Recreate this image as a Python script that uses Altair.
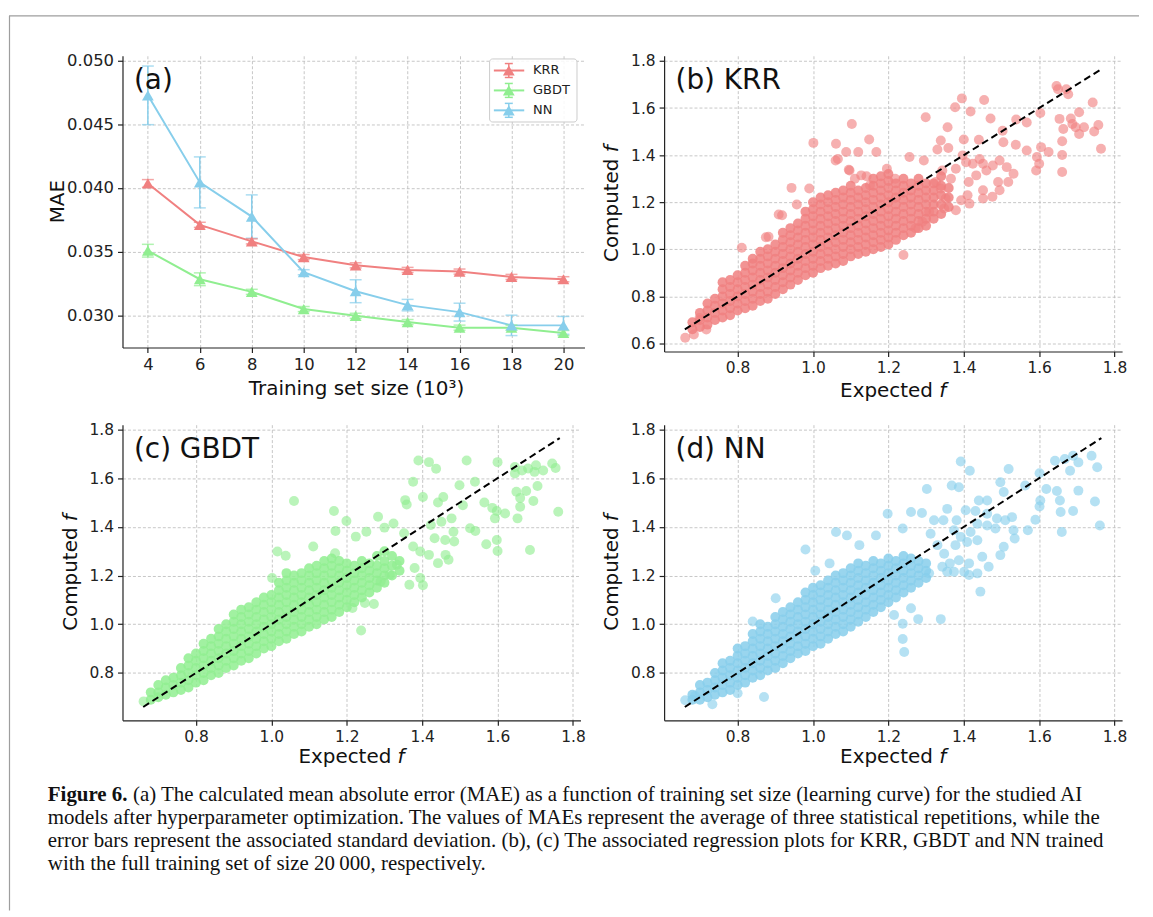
import altair as alt
import pandas as pd

FONT = "DejaVu Sans"
CAP_FONT = "Liberation Serif"

# ---------------- panel (a): learning curve ----------------
models = ["KRR", "GBDT", "NN"]
model_colors = ["#F08080", "#90EE90", "#87CEEB"]
train_size = [4, 6, 8, 10, 12, 14, 16, 18, 20]
krr_mae = [0.04036, 0.03711, 0.03581, 0.03458, 0.03393, 0.03357, 0.03344, 0.03302, 0.03284]
krr_std = [0.0003, 0.0002, 0.0002, 0.0002, 0.0002, 0.0002, 0.0002, 0.0002, 0.0002]
gbdt_mae = [0.03508, 0.03284, 0.03185, 0.03050, 0.02997, 0.02948, 0.02904, 0.02904, 0.02862]
gbdt_std = [0.0005, 0.0005, 0.0002, 0.0002, 0.0002, 0.0002, 0.0002, 0.0002, 0.0002]
nn_mae = [0.04727, 0.04044, 0.03776, 0.03339, 0.03190, 0.03081, 0.03026, 0.02922, 0.02922]
nn_std = [0.0023, 0.0020, 0.0017, 0.0002, 0.0009, 0.00045, 0.0007, 0.0008, 0.0007]
mae_ticks = [0.030, 0.035, 0.040, 0.045, 0.050]

# ---------------- panels (b)-(d): regression plots ----------------
f_ticks = [0.8, 1.0, 1.2, 1.4, 1.6, 1.8]
diag_vals = [0.66, 1.765]

krr_band = [
    (0.68, [0.66, 0.69]),
    (0.70, [0.67, 0.70, 0.73]),
    (0.72, [0.68, 0.71, 0.74, 0.77]),
    (0.74, [0.70, 0.73, 0.76, 0.79]),
    (0.76, [0.71, 0.74, 0.77, 0.80, 0.83, 0.86]),
    (0.78, [0.72, 0.75, 0.78, 0.81, 0.84, 0.87]),
    (0.80, [0.74, 0.77, 0.80, 0.83, 0.86, 0.89]),
    (0.82, [0.75, 0.78, 0.81, 0.84, 0.87, 0.90, 0.93]),
    (0.84, [0.76, 0.79, 0.82, 0.85, 0.88, 0.91, 0.94, 0.96]),
    (0.86, [0.78, 0.81, 0.84, 0.87, 0.90, 0.93, 0.96, 0.99]),
    (0.88, [0.79, 0.82, 0.85, 0.88, 0.91, 0.94, 0.97, 1.00]),
    (0.90, [0.81, 0.84, 0.87, 0.90, 0.93, 0.96, 0.99, 1.02]),
    (0.92, [0.83, 0.86, 0.89, 0.92, 0.95, 0.98, 1.01, 1.04, 1.07]),
    (0.94, [0.85, 0.88, 0.91, 0.94, 0.97, 1.00, 1.03, 1.06, 1.09]),
    (0.96, [0.87, 0.90, 0.93, 0.96, 0.99, 1.02, 1.05, 1.08, 1.11]),
    (0.98, [0.89, 0.92, 0.95, 0.98, 1.01, 1.04, 1.07, 1.10, 1.13, 1.16]),
    (1.00, [0.90, 0.93, 0.96, 0.99, 1.02, 1.05, 1.08, 1.11, 1.14, 1.17, 1.20]),
    (1.02, [0.92, 0.95, 0.98, 1.01, 1.04, 1.07, 1.10, 1.13, 1.16, 1.19, 1.22]),
    (1.04, [0.93, 0.96, 0.99, 1.02, 1.05, 1.08, 1.11, 1.14, 1.17, 1.20, 1.23]),
    (1.06, [0.94, 0.97, 1.00, 1.03, 1.06, 1.09, 1.12, 1.15, 1.18, 1.21, 1.24]),
    (1.08, [0.95, 0.98, 1.01, 1.04, 1.07, 1.10, 1.13, 1.16, 1.19, 1.22, 1.25]),
    (1.10, [0.97, 1.00, 1.03, 1.06, 1.09, 1.12, 1.15, 1.18, 1.21, 1.24, 1.27]),
    (1.12, [0.98, 1.01, 1.04, 1.07, 1.10, 1.13, 1.16, 1.19, 1.22, 1.25]),
    (1.14, [0.99, 1.02, 1.05, 1.08, 1.11, 1.14, 1.17, 1.20, 1.23, 1.26]),
    (1.16, [1.00, 1.03, 1.06, 1.09, 1.12, 1.15, 1.18, 1.21, 1.24, 1.27, 1.30]),
    (1.18, [1.01, 1.04, 1.07, 1.10, 1.13, 1.16, 1.19, 1.22, 1.25, 1.28, 1.31]),
    (1.20, [1.02, 1.05, 1.08, 1.11, 1.14, 1.17, 1.20, 1.23, 1.26, 1.29, 1.32]),
    (1.22, [1.04, 1.07, 1.10, 1.13, 1.16, 1.19, 1.22, 1.25, 1.28]),
    (1.24, [1.06, 1.09, 1.12, 1.15, 1.18, 1.21, 1.24, 1.27, 1.30]),
    (1.26, [1.07, 1.10, 1.13, 1.16, 1.19, 1.22, 1.25, 1.28]),
    (1.28, [1.09, 1.12, 1.15, 1.18, 1.21, 1.24, 1.27, 1.30]),
    (1.30, [1.10, 1.13, 1.16, 1.19, 1.22, 1.25, 1.28]),
    (1.32, [1.13, 1.16, 1.19, 1.22, 1.25, 1.28]),
    (1.34, [1.15, 1.19, 1.23, 1.27, 1.31]),
    (1.36, [1.18, 1.22, 1.26]),
]
krr_outliers = [
    (0.661, 0.624), (0.684, 0.638), (0.717, 0.659), (0.699, 0.708), (0.811, 1.007), (0.875, 1.051),
    (0.943, 1.261), (0.909, 1.148), (1.001, 1.452), (0.990, 1.258), (1.061, 1.448), (1.103, 1.532),
    (1.149, 1.466), (1.168, 1.413), (1.120, 1.413), (1.088, 1.413), (1.060, 1.377), (1.095, 1.338),
    (1.111, 1.300), (1.142, 1.310), (1.196, 1.342), (1.218, 1.300), (1.240, 0.976), (1.256, 1.392),
    (1.299, 1.561), (1.294, 1.377), (1.339, 1.462), (1.357, 1.518), (1.359, 1.430), (1.377, 1.603),
    (1.395, 1.641), (1.418, 1.585), (1.454, 1.634), (1.471, 1.556), (1.440, 1.465), (1.400, 1.466),
    (1.330, 1.424), (1.397, 1.399), (1.505, 1.455), (1.503, 1.504), (1.539, 1.551), (1.567, 1.539),
    (1.538, 1.444), (1.567, 1.420), (1.594, 1.392), (1.625, 1.413), (1.605, 1.434), (1.603, 1.579),
    (1.592, 1.335), (1.600, 1.363), (1.646, 1.694), (1.650, 1.680), (1.672, 1.680), (1.677, 1.659),
    (1.654, 1.554), (1.664, 1.511), (1.661, 1.459), (1.661, 1.401), (1.661, 1.328), (1.684, 1.556),
    (1.697, 1.518), (1.688, 1.532), (1.706, 1.582), (1.706, 1.490), (1.719, 1.518), (1.742, 1.624),
    (1.746, 1.500), (1.757, 1.528), (1.764, 1.427),
    (1.339, 1.258), (1.379, 1.166), (1.393, 1.208), (1.413, 1.286), (1.433, 1.314), (1.451, 1.363),
    (1.424, 1.363), (1.460, 1.335), (1.477, 1.356), (1.495, 1.377), (1.514, 1.349), (1.532, 1.321),
    (1.491, 1.286), (1.518, 1.286), (1.451, 1.251), (1.495, 1.251), (1.476, 1.223), (1.451, 1.216),
    (1.415, 1.194), (1.410, 1.230), (1.442, 1.384), (1.406, 1.370), (1.379, 1.342), (1.366, 1.300),
    (1.343, 1.335), (1.352, 1.216), (1.348, 1.173), (1.326, 1.286), (1.308, 1.159), (1.290, 1.117),
    (1.272, 1.089), (0.882, 1.053), (0.918, 1.145), (0.957, 1.190), (1.066, 1.384), (1.097, 1.335),
    (1.128, 1.314), (1.151, 1.272),
]

gbdt_band = [
    (0.68, [0.69, 0.72]),
    (0.70, [0.70, 0.72, 0.75]),
    (0.72, [0.71, 0.74, 0.77]),
    (0.74, [0.72, 0.75, 0.78]),
    (0.76, [0.73, 0.76, 0.79, 0.82]),
    (0.78, [0.74, 0.77, 0.80, 0.83, 0.86]),
    (0.80, [0.76, 0.79, 0.82, 0.85, 0.88]),
    (0.82, [0.77, 0.80, 0.83, 0.86, 0.89, 0.92]),
    (0.84, [0.79, 0.82, 0.85, 0.88, 0.91, 0.94]),
    (0.86, [0.80, 0.83, 0.86, 0.89, 0.92, 0.95, 0.98]),
    (0.88, [0.82, 0.85, 0.88, 0.91, 0.94, 0.97, 1.00]),
    (0.90, [0.83, 0.86, 0.89, 0.92, 0.95, 0.98, 1.01, 1.04]),
    (0.92, [0.85, 0.88, 0.91, 0.94, 0.97, 1.00, 1.03, 1.06]),
    (0.94, [0.86, 0.89, 0.92, 0.95, 0.98, 1.01, 1.04, 1.07]),
    (0.96, [0.88, 0.91, 0.94, 0.97, 1.00, 1.03, 1.06, 1.09]),
    (0.98, [0.90, 0.93, 0.96, 0.99, 1.02, 1.05, 1.08, 1.11]),
    (1.00, [0.91, 0.94, 0.97, 1.00, 1.03, 1.06, 1.09, 1.12]),
    (1.02, [0.93, 0.96, 0.99, 1.02, 1.05, 1.08, 1.11, 1.14, 1.17]),
    (1.04, [0.94, 0.97, 1.00, 1.03, 1.06, 1.09, 1.12, 1.15, 1.18, 1.21]),
    (1.06, [0.96, 0.99, 1.02, 1.05, 1.08, 1.11, 1.14, 1.17, 1.20]),
    (1.08, [0.97, 1.00, 1.03, 1.06, 1.09, 1.12, 1.15, 1.18, 1.21]),
    (1.10, [0.99, 1.02, 1.05, 1.08, 1.11, 1.14, 1.17, 1.20, 1.23]),
    (1.12, [1.00, 1.03, 1.06, 1.09, 1.12, 1.15, 1.18, 1.21, 1.24]),
    (1.14, [1.02, 1.05, 1.08, 1.11, 1.14, 1.17, 1.20, 1.23, 1.26]),
    (1.16, [1.03, 1.06, 1.09, 1.12, 1.15, 1.18, 1.21, 1.24, 1.27]),
    (1.18, [1.05, 1.08, 1.11, 1.14, 1.17, 1.20, 1.23, 1.26]),
    (1.20, [1.07, 1.10, 1.13, 1.16, 1.19, 1.22, 1.25]),
    (1.22, [1.09, 1.12, 1.15, 1.18, 1.21, 1.24]),
    (1.24, [1.11, 1.14, 1.17, 1.20, 1.23, 1.26]),
    (1.26, [1.13, 1.16, 1.19, 1.22, 1.25]),
    (1.28, [1.15, 1.18, 1.21, 1.24, 1.28]),
    (1.30, [1.17, 1.20, 1.23, 1.26, 1.30]),
    (1.32, [1.20, 1.24, 1.28]),
    (1.34, [1.22, 1.26]),
]
gbdt_outliers = [
    (0.661, 0.683), (1.060, 1.506), (1.166, 1.465), (1.199, 1.424), (1.170, 1.383), (1.238, 0.974),
    (1.016, 1.299), (1.038, 1.281), (1.002, 1.190), (1.111, 1.319), (1.169, 1.292), (1.224, 1.360),
    (1.252, 1.380), (1.283, 1.442), (1.300, 1.397), (1.324, 1.414), (1.355, 1.510), (1.359, 1.492),
    (1.376, 1.585), (1.390, 1.673), (1.418, 1.666), (1.437, 1.639), (1.402, 1.523), (1.442, 1.500),
    (1.456, 1.523), (1.508, 1.489), (1.518, 1.673), (1.499, 1.571), (1.540, 1.585), (1.565, 1.500),
    (1.586, 1.478), (1.598, 1.465), (1.620, 1.455), (1.593, 1.435), (1.598, 1.346), (1.600, 1.301),
    (1.570, 1.329), (1.600, 1.666), (1.646, 1.646), (1.646, 1.619), (1.665, 1.632), (1.681, 1.640),
    (1.698, 1.626), (1.702, 1.653), (1.721, 1.632), (1.745, 1.660), (1.754, 1.642), (1.650, 1.544),
    (1.676, 1.547), (1.706, 1.568), (1.695, 1.506), (1.660, 1.483), (1.660, 1.519), (1.653, 1.435),
    (1.686, 1.305), (1.761, 1.462), (1.527, 1.394), (1.541, 1.383), (1.483, 1.380), (1.485, 1.340),
    (1.462, 1.285), (1.470, 1.265), (1.442, 1.251), (1.418, 1.285), (1.395, 1.299), (1.376, 1.319),
    (1.380, 1.231), (1.395, 1.190), (1.366, 1.162), (1.402, 1.160), (1.352, 1.374), (1.423, 1.408),
    (1.451, 1.421), (1.478, 1.435), (1.433, 1.353), (1.461, 1.346), (1.333, 1.244), (1.314, 1.203),
    (1.290, 1.176), (1.272, 1.083), (1.248, 1.087), (1.215, 1.067),
]

nn_band = [
    (0.68, [0.69, 0.71]),
    (0.70, [0.69, 0.72, 0.75]),
    (0.72, [0.70, 0.73, 0.76]),
    (0.74, [0.71, 0.74, 0.77, 0.80]),
    (0.76, [0.72, 0.75, 0.78, 0.81, 0.84]),
    (0.78, [0.73, 0.76, 0.79, 0.82, 0.85]),
    (0.80, [0.75, 0.78, 0.81, 0.84, 0.87, 0.90]),
    (0.82, [0.76, 0.79, 0.82, 0.85, 0.88, 0.91]),
    (0.84, [0.78, 0.81, 0.84, 0.87, 0.90, 0.93, 0.96]),
    (0.86, [0.79, 0.82, 0.85, 0.88, 0.91, 0.94, 0.97, 1.00]),
    (0.88, [0.81, 0.84, 0.87, 0.90, 0.93, 0.96, 0.99]),
    (0.90, [0.82, 0.85, 0.88, 0.91, 0.94, 0.97, 1.00, 1.03]),
    (0.92, [0.84, 0.87, 0.90, 0.93, 0.96, 0.99, 1.02, 1.05]),
    (0.94, [0.86, 0.89, 0.92, 0.95, 0.98, 1.01, 1.04, 1.07]),
    (0.96, [0.88, 0.91, 0.94, 0.97, 1.00, 1.03, 1.06, 1.09]),
    (0.98, [0.89, 0.92, 0.95, 0.98, 1.01, 1.04, 1.07, 1.10, 1.13]),
    (1.00, [0.91, 0.94, 0.97, 1.00, 1.03, 1.06, 1.09, 1.12, 1.15]),
    (1.02, [0.92, 0.95, 0.98, 1.01, 1.04, 1.07, 1.10, 1.13, 1.16]),
    (1.04, [0.94, 0.97, 1.00, 1.03, 1.06, 1.09, 1.12, 1.15, 1.18]),
    (1.06, [0.96, 0.99, 1.02, 1.05, 1.08, 1.11, 1.14, 1.17, 1.20]),
    (1.08, [0.97, 1.00, 1.03, 1.06, 1.09, 1.12, 1.15, 1.18, 1.21]),
    (1.10, [0.99, 1.02, 1.05, 1.08, 1.11, 1.14, 1.17, 1.20, 1.23]),
    (1.12, [1.01, 1.04, 1.07, 1.10, 1.13, 1.16, 1.19, 1.22, 1.25]),
    (1.14, [1.03, 1.06, 1.09, 1.12, 1.15, 1.18, 1.21, 1.24]),
    (1.16, [1.05, 1.08, 1.11, 1.14, 1.17, 1.20, 1.23, 1.26]),
    (1.18, [1.07, 1.10, 1.13, 1.16, 1.19, 1.22, 1.25]),
    (1.20, [1.09, 1.12, 1.15, 1.18, 1.21, 1.24, 1.27]),
    (1.22, [1.11, 1.14, 1.17, 1.20, 1.23, 1.26]),
    (1.24, [1.13, 1.16, 1.19, 1.22, 1.25, 1.28]),
    (1.26, [1.15, 1.18, 1.21, 1.24, 1.27]),
    (1.28, [1.17, 1.20, 1.23, 1.26]),
    (1.30, [1.19, 1.22, 1.25]),
]
nn_outliers = [
    (0.661, 0.688), (0.733, 0.671), (0.870, 0.701), (0.800, 0.716), (0.687, 0.705), (0.901, 1.107),
    (0.840, 1.011), (0.980, 1.307), (1.006, 1.220), (1.044, 1.250), (1.061, 1.379), (1.090, 1.365),
    (1.123, 1.325), (1.167, 1.365), (1.198, 1.454), (1.238, 1.393), (1.260, 1.461), (1.289, 1.457),
    (1.302, 1.556), (1.368, 1.570), (1.387, 1.563), (1.392, 1.669), (1.416, 1.631), (1.440, 1.508),
    (1.462, 1.508), (1.519, 1.638), (1.506, 1.543), (1.497, 1.583), (1.563, 1.570), (1.601, 1.620),
    (1.619, 1.556), (1.647, 1.547), (1.655, 1.508), (1.657, 1.461), (1.660, 1.379), (1.603, 1.508),
    (1.601, 1.484), (1.590, 1.429), (1.570, 1.386), (1.642, 1.672), (1.668, 1.679), (1.690, 1.692),
    (1.704, 1.665), (1.682, 1.631), (1.704, 1.549), (1.690, 1.465), (1.739, 1.692), (1.754, 1.645),
    (1.748, 1.504), (1.761, 1.406), (1.444, 1.134), (1.414, 1.202), (1.339, 1.021), (1.279, 1.021),
    (1.238, 1.002), (1.238, 0.939), (1.242, 0.886), (1.215, 1.038), (1.260, 1.066), (1.449, 1.277),
    (1.466, 1.236), (1.497, 1.284), (1.506, 1.318), (1.535, 1.352), (1.510, 1.427), (1.488, 1.434),
    (1.462, 1.454), (1.431, 1.465), (1.405, 1.468), (1.381, 1.427), (1.356, 1.474), (1.346, 1.427),
    (1.392, 1.359), (1.418, 1.379), (1.436, 1.413), (1.462, 1.406), (1.484, 1.393), (1.528, 1.440),
    (1.532, 1.386), (1.436, 1.345), (1.409, 1.338), (1.378, 1.325), (1.374, 1.386), (1.321, 1.427),
    (1.312, 1.372), (1.330, 1.325), (1.348, 1.290), (1.363, 1.250), (1.387, 1.263), (1.414, 1.250),
    (1.436, 1.209), (1.401, 1.216), (1.374, 1.216), (1.356, 1.216), (1.343, 1.236), (1.308, 1.209),
]

caption_bold = "Figure 6."
caption_line1 = "(a) The calculated mean absolute error (MAE) as a function of training set size (learning curve) for the studied AI"
caption_rest = [
    "models after hyperparameter optimization. The values of MAEs represent the average of three statistical repetitions, while the",
    "error bars represent the associated standard deviation. (b), (c) The associated regression plots for KRR, GBDT and NN trained",
    "with the full training set of size 20\u2009000, respectively.",
]

ONE = pd.DataFrame({"v": [0]})


def text_layer(s, x, y, size, font=FONT, weight="normal", style="normal",
               align="left", baseline="alphabetic", angle=0, color="#111111", **kw):
    return alt.Chart(pd.DataFrame({"t": [s]})).mark_text(
        font=font, fontSize=size, fontWeight=weight, fontStyle=style,
        align=align, baseline=baseline, angle=angle, color=color, **kw
    ).encode(text="t:N", x=alt.value(x), y=alt.value(y))


def hrule(x1, x2, y, color, width=1.0):
    return alt.Chart(ONE).mark_rule(color=color, strokeWidth=width).encode(
        x=alt.value(x1), x2=alt.value(x2), y=alt.value(y))


def vrule(x, y1, y2, color, width=1.0):
    return alt.Chart(ONE).mark_rule(color=color, strokeWidth=width).encode(
        x=alt.value(x), y=alt.value(y1), y2=alt.value(y2))


# ---------------- panel (a) ----------------
AW, AH = 464, 293
rows = []
for m, maes, stds in zip(models, [krr_mae, gbdt_mae, nn_mae], [krr_std, gbdt_std, nn_std]):
    for s, v, e in zip(train_size, maes, stds):
        rows.append({"train": s, "model": m, "mae": v, "lo": v - e, "hi": v + e})
df_a = pd.DataFrame(rows)

xs_a = alt.Scale(domain=[3.023, 20.81], nice=False, zero=False)
ys_a = alt.Scale(domain=[0.027484, 0.050375], nice=False, zero=False)
xax_a = alt.Axis(values=train_size, title=None, labelFontSize=16.5)
yax_a = alt.Axis(values=mae_ticks, format=".3f", title=None, labelFontSize=16.5)
col = alt.Color("model:N", scale=alt.Scale(domain=models, range=model_colors), legend=None)
X_a = alt.X("train:Q", scale=xs_a, axis=xax_a)

base_a = alt.Chart(df_a)
line_a = base_a.mark_line(strokeWidth=2).encode(
    x=X_a, y=alt.Y("mae:Q", scale=ys_a, axis=yax_a), color=col, detail="model:N")
bars_a = base_a.mark_rule(strokeWidth=1.5).encode(
    x=X_a, y=alt.Y("lo:Q", scale=ys_a, axis=yax_a), y2="hi:Q", color=col)
capl_a = base_a.mark_tick(orient="horizontal", size=12, thickness=1.5).encode(
    x=X_a, y=alt.Y("lo:Q", scale=ys_a, axis=yax_a), color=col)
caph_a = base_a.mark_tick(orient="horizontal", size=12, thickness=1.5).encode(
    x=X_a, y=alt.Y("hi:Q", scale=ys_a, axis=yax_a), color=col)
pts_a = base_a.mark_point(shape="triangle-up", filled=True, size=140, opacity=1).encode(
    x=X_a, y=alt.Y("mae:Q", scale=ys_a, axis=yax_a), color=col)

legend_layers = [
    alt.Chart(ONE).mark_rect(fill="white", fillOpacity=0.85, stroke="#cccccc",
                             strokeWidth=1, cornerRadius=3).encode(
        x=alt.value(368.7), x2=alt.value(456.5), y=alt.value(3.2), y2=alt.value(66.5))
]
for i, (m, c) in enumerate(zip(models, model_colors)):
    yy = 14.8 + 20 * i
    legend_layers += [
        hrule(373, 403.5, yy, c, 2),
        vrule(388, yy - 7, yy + 7, c, 1.5),
        hrule(384, 392, yy - 7, c, 1.5),
        hrule(384, 392, yy + 7, c, 1.5),
        alt.Chart(ONE).mark_point(shape="triangle-up", filled=True, size=140, opacity=1,
                                  color=c).encode(x=alt.value(388), y=alt.value(yy)),
        text_layer(m, 412.4, yy, 13, baseline="middle", color="#222222"),
    ]

panel_a = alt.layer(
    line_a, bars_a, capl_a, caph_a, pts_a, *legend_layers,
    text_layer("(a)", 11.5, 33.5, 28),
    text_layer("Training set size (10\u00b3)", 235, AH + 47.5, 20, align="center"),
    text_layer("MAE", -59, AH / 2, 20, align="center", angle=270),
    hrule(-114, 1021, -40, "#9e9e9e", 1.2),
).properties(width=AW, height=AH)


# ---------------- scatter panels ----------------
def expand(band):
    xs, ys = [], []
    for x, colv in band:
        for y in colv:
            xs.append(x)
            ys.append(y)
    return pd.DataFrame({"expected": xs, "computed": ys})


def pairs(points):
    return pd.DataFrame({"expected": [p[0] for p in points], "computed": [p[1] for p in points]})


def scatter_panel(band, outliers, color, label, y_domain, y_ticks, w, h, xt_dy, extra=()):
    xs = alt.Scale(domain=[0.605, 1.82], nice=False, zero=False)
    ys = alt.Scale(domain=y_domain, nice=False, zero=False)
    xax = alt.Axis(values=f_ticks, format=".1f", title=None)
    yax = alt.Axis(values=y_ticks, format=".1f", title=None)
    X = alt.X("expected:Q", scale=xs, axis=xax)
    Y = alt.Y("computed:Q", scale=ys, axis=yax)
    core = alt.Chart(expand(band)).mark_circle(size=100, opacity=0.85, color=color).encode(x=X, y=Y)
    sparse = alt.Chart(pairs(outliers)).mark_circle(size=100, opacity=0.62, color=color).encode(x=X, y=Y)
    diag = alt.Chart(pd.DataFrame({"expected": diag_vals, "computed": diag_vals})).mark_line(
        color="black", strokeDash=[7, 4], strokeWidth=2).encode(x=X, y=Y)
    cx = w / 2
    layers = [
        core, sparse, diag,
        text_layer(label, 11.5, 33.5, 28),
        text_layer("Expected", cx + 40, h + xt_dy, 20, align="right"),
        text_layer("f", cx + 46.3, h + xt_dy, 20, style="italic"),
        text_layer("Computed", -46, h / 2 + 58.6, 20, angle=270),
        text_layer("f", -46, h / 2 - 51.6, 20, angle=270, style="italic"),
    ] + list(extra)
    return alt.layer(*layers).properties(width=w, height=h)


PW, PH = 460, 297
panel_b = scatter_panel(krr_band, krr_outliers, model_colors[0], "(b) KRR",
                        [0.566, 1.822], [0.6, 0.8, 1.0, 1.2, 1.4, 1.6, 1.8], PW, PH, 45.6)

caption_layers = [
    text_layer(caption_bold, -75, 378, 21, font=CAP_FONT, weight="bold"),
    text_layer(caption_line1, 10.5, 378, 21, font=CAP_FONT),
    text_layer("\n".join(caption_rest), -75, 401, 21, font=CAP_FONT, lineBreak="\n", lineHeight=23),
    vrule(-113.5, -410.5, 488, "#9e9e9e", 1.2),
]
panel_c = scatter_panel(gbdt_band, gbdt_outliers, model_colors[1], "(c) GBDT",
                        [0.605, 1.82], f_ticks, PW, PH, 43, extra=caption_layers)
panel_d = scatter_panel(nn_band, nn_outliers, model_colors[2], "(d) NN",
                        [0.605, 1.82], f_ticks, PW, PH, 43)

chart = alt.concat(
    panel_a, panel_b, panel_c, panel_d,
    columns=2, spacing={"row": 73.5, "column": 80}, bounds="flush",
).properties(
    padding={"left": 0, "top": 5, "right": 5, "bottom": 0}
).configure_view(stroke=None).configure_axis(
    labelFont=FONT, labelColor="#222222", labelFontSize=15.5,
    tickColor="#222222", tickSize=5, tickWidth=1.2, labelPadding=4,
    domainColor="#222222", domainWidth=1.2,
    gridColor="#b8b8b8", gridDash=[3, 2], gridWidth=0.8,
)

chart.save("out.html", embed_options={"renderer": "svg", "actions": False})
